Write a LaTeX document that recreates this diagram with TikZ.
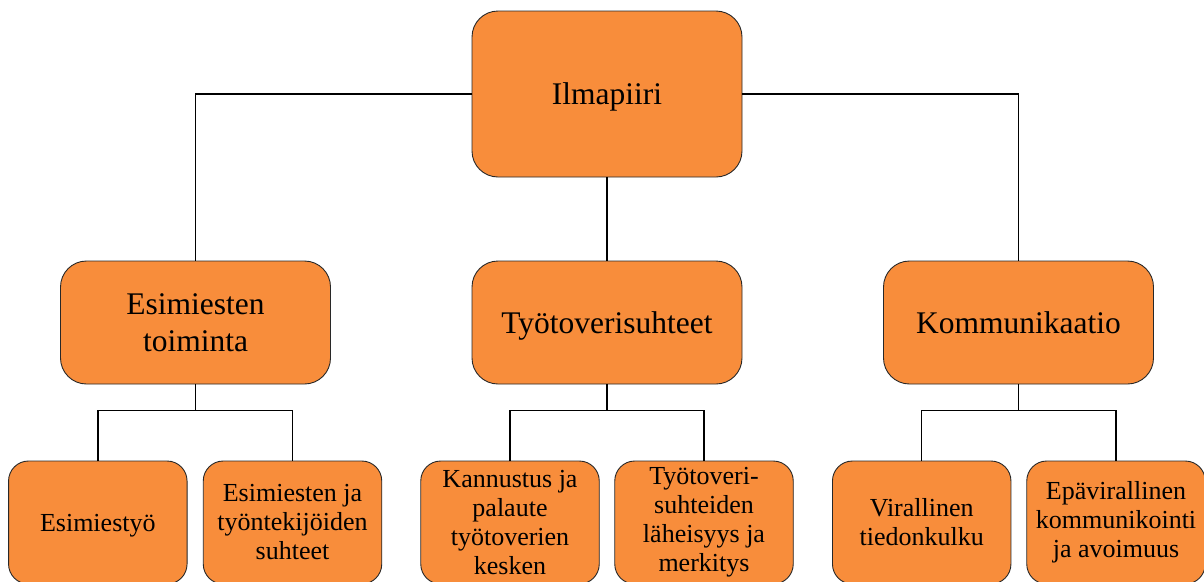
\documentclass[tikz,border=0pt]{standalone}
\usepackage{fontspec}
\setmainfont{Liberation Serif}
\definecolor{boxfill}{RGB}{248,141,59}
\definecolor{boxline}{RGB}{40,40,40}
\tikzset{
  box/.style={draw=boxline, line width=0.9pt, fill=boxfill, align=center, inner sep=0pt, outer sep=0pt},
  bigbox/.style={box, minimum width=270pt, rounded corners=26pt, font=\fontsize{31.5}{36.5}\selectfont},
  smallbox/.style={box, minimum width=178.5pt, minimum height=123pt, rounded corners=20pt, font=\fontsize{26}{29}\selectfont},
  oneline/.style={text depth=0pt},
  conn/.style={draw=black, line width=1.5pt}
}
\begin{document}
\begin{tikzpicture}[x=1pt, y=-1pt]
\useasboundingbox (0,0) rectangle (1204,581);
\clip (0,0) rectangle (1204,581);
\fill[white] (0,0) rectangle (1204,581);
% top
\node[bigbox, oneline, minimum height=166pt] (top) at (607,94) {Ilmapiiri};
% middle
\node[bigbox, minimum height=123pt] (m1) at (195.5,322.5) {Esimiesten\\toiminta};
\node[bigbox, oneline, minimum height=123pt] (m2) at (607,322.5) {Työtoverisuhteet};
\node[bigbox, oneline, minimum height=123pt] (m3) at (1018.5,322.5) {Kommunikaatio};
% bottom
\node[smallbox, oneline] (b1) at (97.8,522.5) {Esimiestyö};
\node[smallbox] (b2) at (292.5,522.5) {Esimiesten ja\\työntekijöiden\\suhteet};
\node[smallbox] (b3) at (510,522.5) {Kannustus ja\\palaute\\työtoverien\\kesken};
\node[smallbox] (b4) at (704,522.5) {Työtoveri-\\suhteiden\\läheisyys ja\\merkitys};
\node[smallbox] (b5) at (921.7,522.5) {Virallinen\\tiedonkulku};
\node[smallbox] (b6) at (1116,522.5) {Epävirallinen\\kommunikointi\\ja avoimuus};
% connectors top
\draw[conn] (top.west) -| (m1.north);
\draw[conn] (top.east) -| (m3.north);
\draw[conn] (top.south) -- (m2.north);
% connectors middle to bottom
\draw[conn] (m1.south) -- ++(0,26.5) coordinate (j1);
\draw[conn] (b1.north) |- (j1) -| (b2.north);
\draw[conn] (m2.south) -- ++(0,26.5) coordinate (j2);
\draw[conn] (b3.north) |- (j2) -| (b4.north);
\draw[conn] (m3.south) -- ++(0,26.5) coordinate (j3);
\draw[conn] (b5.north) |- (j3) -| (b6.north);
\end{tikzpicture}
\end{document}
